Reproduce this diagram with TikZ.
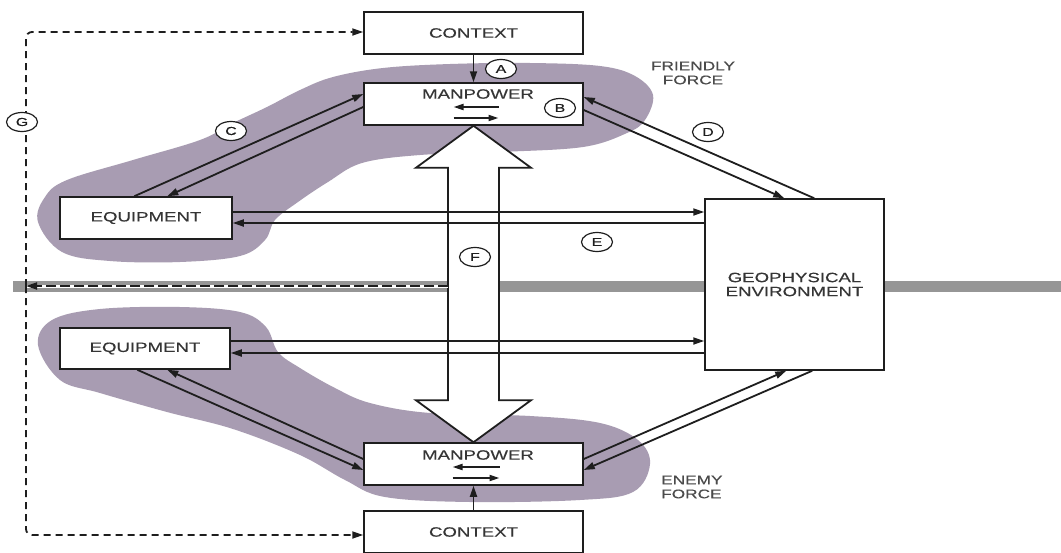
\documentclass[tikz,border=0pt]{standalone}
\usepackage{fontspec}
\newfontfamily\lblfont[FakeStretch=1.38,FakeBold=0.35]{Liberation Sans}
\usetikzlibrary{arrows.meta,calc,shapes.geometric}

\definecolor{blobcol}{RGB}{168,156,178}
\definecolor{bandcol}{RGB}{150,150,150}
\definecolor{ink}{RGB}{30,30,30}

\tikzset{
  box/.style={draw=ink, line width=1.5pt, fill=white, inner sep=0pt,
    font={\lblfont\fontsize{13.5}{14}\selectfont}, align=center, text=ink!90},
  boxtext/.style={inner sep=0pt, font={\lblfont\fontsize{13.5}{14}\selectfont}, align=center, text=ink!90},
  forcetext/.style={inner sep=0pt, font={\lblfont\fontsize{12.5}{14}\selectfont}, text=ink!80},
  tag/.style={ellipse, draw=ink, line width=1.2pt, fill=white, minimum width=31pt,
    minimum height=19pt, inner sep=0pt, font={\lblfont\fontsize{11.5}{11.5}\selectfont}, text=ink},
  conn/.style={draw=ink, line width=1.8pt, -{Triangle[length=11pt,width=7pt]}},
  minor/.style={draw=ink, line width=1.8pt, -{Triangle[length=10pt,width=6pt]}},
  feedback/.style={draw=ink, line width=1.8pt, dash pattern=on 9pt off 5pt,
    -{Triangle[length=11pt,width=7pt]}},
  blob/.style={fill=blobcol},
}

\begin{document}
\begin{tikzpicture}[x=1pt, y=-1pt]
\useasboundingbox (0,0) rectangle (1061,552);
\fill[white] (0,0) rectangle (1061,552);

% shaded force regions
\fill[blob] plot[smooth cycle, tension=0.6] coordinates {
  (38,222) (45,197) (67,180) (133,160) (200,140) (233,123) (267,107) (300,90)
  (333,77) (383,68) (450,64) (530,63) (600,66) (635,76) (653,95) (645,120)
  (627,133) (583,147) (500,152) (420,155) (362,163) (328,182) (298,202)
  (275,220) (265,240) (240,256) (180,262) (110,261) (62,252)};
\fill[blob] plot[smooth cycle, tension=0.6] coordinates {
  (38,345) (52,320) (100,309) (180,307) (240,312) (266,327) (278,352)
  (300,368) (335,388) (370,403) (430,413) (530,416) (600,423) (638,440)
  (650,464) (633,492) (580,500) (470,502) (385,497) (345,480) (300,455)
  (233,429) (167,412) (100,393) (60,380)};

% horizontal separation band
\fill[bandcol] (13,280.5) rectangle (1061,291.5);

% boxes
\node[box, minimum width=219pt, minimum height=42pt] (ctxT) at (473.5,33) {CONTEXT};
\node[box, minimum width=219pt, minimum height=42pt] (mpT) at (473.5,104) {};
\node[box, minimum width=172pt, minimum height=42pt] (eqT) at (146,218) {EQUIPMENT};
\node[box, minimum width=170pt, minimum height=41pt] (eqB) at (145,348.5) {EQUIPMENT};
\node[box, minimum width=219pt, minimum height=42pt] (mpB) at (473.5,464) {};
\node[box, minimum width=219pt, minimum height=42pt] (ctxB) at (473.5,532) {CONTEXT};
\node[box, minimum width=179pt, minimum height=171pt] (geo) at (794.5,284.5)
  {GEOPHYSICAL\\ENVIRONMENT};

\node[boxtext] (mpTt) at (478,94) {MANPOWER};
\node[boxtext] (mpBt) at (478,455) {MANPOWER};

% exchange arrows inside the manpower boxes
\draw[minor] ($(mpT.center)+(25,3)$) -- ($(mpT.center)+(-20,3)$);
\draw[minor] ($(mpT.center)+(-20,14)$) -- ($(mpT.center)+(25,14)$);
\draw[minor] ($(mpB.center)+(26,3)$) -- ($(mpB.center)+(-21,3)$);
\draw[minor] ($(mpB.center)+(-21,14)$) -- ($(mpB.center)+(26,14)$);

% big two-way arrow between the forces
\draw[draw=ink, line width=1.8pt, fill=white, line join=miter]
  (mpT.south) -- ($(mpT.south)+(57.5,42)$) -- ($(mpT.south)+(25.5,42)$)
  -- ($(mpB.north)+(25.5,-42)$) -- ($(mpB.north)+(57.5,-42)$) -- (mpB.north)
  -- ($(mpB.north)+(-57.5,-42)$) -- ($(mpB.north)+(-25.5,-42)$)
  -- ($(mpT.south)+(-25.5,42)$) -- ($(mpT.south)+(-57.5,42)$) -- cycle;

% context to manpower
\draw[conn] (ctxT.south) -- (mpT.north);
\draw[conn] (ctxB.north) -- (mpB.south);

% friendly equipment <-> manpower
\draw[conn] ($(eqT.north west)+(75,0)$) -- ($(mpT.west)+(0,-10)$);
\draw[conn] ($(mpT.west)+(0,3)$) -- ($(eqT.north west)+(108,0)$);
% friendly manpower <-> environment
\draw[conn] ($(geo.north west)+(110,0)$) -- ($(mpT.east)+(0,-7)$);
\draw[conn] ($(mpT.east)+(0,6)$) -- ($(geo.north west)+(80,0)$);
% equipment <-> environment
\draw[conn] ($(eqT.east)+(0,-6)$) coordinate (e1) -- (e1 -| geo.west);
\draw[conn] ($(eqT.east)+(0,5)$) coordinate (e2) (e2 -| geo.west) -- (e2);
\draw[conn] ($(eqB.east)+(0,-7.5)$) coordinate (e3) -- (e3 -| geo.west);
\draw[conn] ($(eqB.east)+(0,4.5)$) coordinate (e4) (e4 -| geo.west) -- (e4);
% enemy equipment <-> manpower
\draw[conn] ($(eqB.south west)+(78,0)$) -- ($(mpB.west)+(0,6)$);
\draw[conn] ($(mpB.west)+(0,-5)$) -- ($(eqB.south west)+(108,0)$);
% enemy manpower <-> environment
\draw[conn] ($(mpB.east)+(0,-5)$) -- ($(geo.south west)+(82,0)$);
\draw[conn] ($(geo.south west)+(108,0)$) -- ($(mpB.east)+(0,6)$);

% feedback path
\coordinate (fL) at (448,286);
\coordinate (gj) at (26,286);
\draw[white, line width=3pt] (fL) -- (gj);
\draw[feedback, dash pattern=on 10pt off 4pt] (fL) -- (gj);
\draw[feedback, dash pattern=on 7pt off 5pt, rounded corners=6pt] (gj) |- ($(ctxT.west)+(0,-1)$);
\draw[feedback, dash pattern=on 7pt off 5pt, rounded corners=6pt] (gj) |- ($(ctxB.west)+(0,3)$);

% letter tags
\node[tag] (tA) at (501,69) {A};
\node[tag] (tB) at (560,108) {B};
\node[tag] (tC) at (231,131) {C};
\node[tag] (tD) at (708,132) {D};
\node[tag] (tE) at (597,242) {E};
\node[tag] (tF) at (475,257) {F};
\node[tag] (tG) at (22,122) {G};

% force labels
\node[forcetext, align=center] (friendly) at (693,73) {FRIENDLY\\FORCE};
\node[forcetext, align=left, anchor=west] (enemy) at (661,487) {ENEMY\\FORCE};
\end{tikzpicture}
\end{document}
